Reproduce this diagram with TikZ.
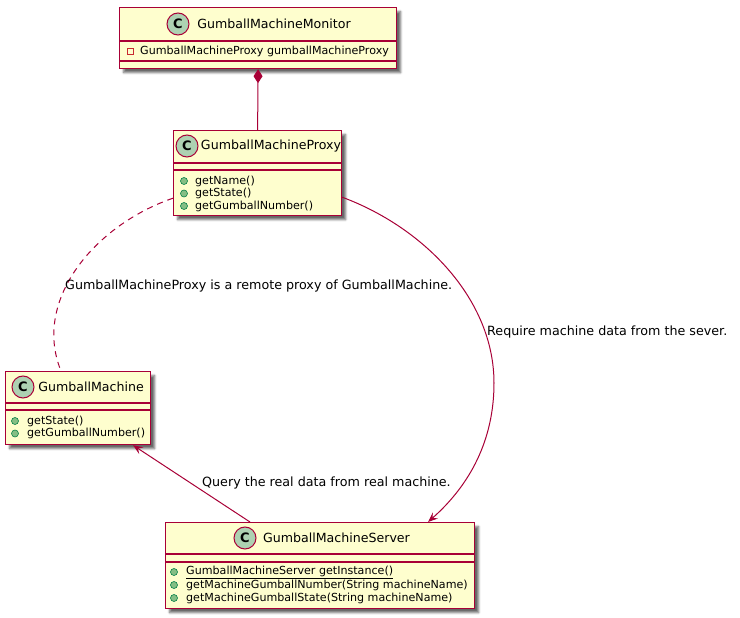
\documentclass[tikz,border=0pt]{standalone}
\usepackage{fontspec}
\setmainfont{DejaVu Sans}
\usetikzlibrary{arrows.meta,calc,shadows.blur}
\definecolor{umlB}{HTML}{A80036}
\definecolor{umlF}{HTML}{FEFECE}
\definecolor{umlC}{HTML}{ADD1B2}
\definecolor{umlG}{HTML}{84BE84}
\definecolor{umlGd}{HTML}{038048}
\definecolor{umlP}{HTML}{C82930}
\begin{document}
\begin{tikzpicture}[x=1pt,y=-1pt,>={Stealth[length=10pt,width=8pt,inset=4pt]},
  cls/.style={draw=umlB,fill=umlF,line width=1.2pt,inner sep=0pt,anchor=north west,
    blur shadow={shadow xshift=4pt,shadow yshift=-4pt,shadow blur steps=6,shadow opacity=60}},
  sep/.style={umlB,line width=1.2pt},
  circ/.style={circle,draw=umlB,fill=umlC,line width=1pt,minimum size=22pt,inner sep=0pt,
    font=\fontsize{13}{13}\selectfont\bfseries},
  cname/.style={font=\fontsize{12.6}{15}\selectfont,inner sep=0pt},
  mem/.style={anchor=west,font=\fontsize{11.1}{13}\selectfont,inner sep=0pt},
  pub/.style={circle,draw=umlGd,fill=umlG,line width=0.6pt,minimum size=7pt,inner sep=0pt},
  priv/.style={rectangle,draw=umlP,line width=0.8pt,minimum size=6pt,inner sep=0pt},
  lbl/.style={anchor=west,font=\fontsize{12.7}{15}\selectfont,inner sep=0pt},
  link/.style={umlB,line width=1pt}]
\useasboundingbox (0,0) rectangle (740,618);
% ---------- classes ----------
\node[cls,minimum width=277pt,minimum height=61pt] (mon) at (119,7) {};
\draw[sep] ($(mon.north west)+(0,34)$)--($(mon.north east)+(0,34)$);
\draw[sep] ($(mon.north west)+(0,54)$)--($(mon.north east)+(0,54)$);
\node[circ] (monC) at (178,24) {C};
\node[cname] (monN) at (274,24) {GumballMachineMonitor};
\node[priv] (monA) at (130,51) {};
\node[mem] (monAt) at (140,51) {GumballMachineProxy gumballMachineProxy};

\node[cls,minimum width=168pt,minimum height=85pt] (proxy) at (173,130) {};
\draw[sep] ($(proxy.north west)+(0,33)$)--($(proxy.north east)+(0,33)$);
\draw[sep] ($(proxy.north west)+(0,40)$)--($(proxy.north east)+(0,40)$);
\node[circ] (proxyC) at (187,146) {C};
\node[cname] (proxyN) at (271,146) {GumballMachineProxy};
\foreach \y/\m [count=\i] in {181/getName(),193.5/getState(),206/getGumballNumber()}{
  \node[pub] (proxyV\i) at (184,\y) {};
  \node[mem] (proxyM\i) at (195,\y) {\m};
}

\node[cls,minimum width=145pt,minimum height=73pt] (gm) at (5,371) {};
\draw[sep] ($(gm.north west)+(0,32)$)--($(gm.north east)+(0,32)$);
\draw[sep] ($(gm.north west)+(0,39)$)--($(gm.north east)+(0,39)$);
\node[circ] (gmC) at (23,387) {C};
\node[cname] (gmN) at (91,387) {GumballMachine};
\foreach \y/\m [count=\i] in {421/getState(),433.5/getGumballNumber()}{
  \node[pub] (gmV\i) at (15,\y) {};
  \node[mem] (gmM\i) at (27,\y) {\m};
}

\node[cls,minimum width=309pt,minimum height=86pt] (srv) at (165,522) {};
\draw[sep] ($(srv.north west)+(0,32)$)--($(srv.north east)+(0,32)$);
\draw[sep] ($(srv.north west)+(0,40)$)--($(srv.north east)+(0,40)$);
\node[circ] (srvC) at (245,538) {C};
\node[cname] (srvN) at (336.5,538) {GumballMachineServer};
\foreach \y/\m [count=\i] in {572/\underline{GumballMachineServer getInstance()},
    585/getMachineGumballNumber(String machineName),
    598/getMachineGumballState(String machineName)}{
  \node[pub] (srvV\i) at (174,\y) {};
  \node[mem] (srvM\i) at (186,\y) {\m};
}

% ---------- links ----------
\draw[link,{Diamond[length=14pt,width=9pt]}-] (mon.south)--(proxy.north);
\coordinate (dashA) at ($(proxy.south west)+(0,-18)$);
\coordinate (dashB) at ($(gm.north west)+(56,0)$);
\draw[link,dash pattern=on 6pt off 5pt] (dashA) .. controls (95,225) and (32,300) .. (dashB);
\node[lbl] (proxyLbl) at (65,286) {GumballMachineProxy is a remote proxy of GumballMachine.};

\coordinate (reqA) at ($(proxy.south east)+(0,-19)$);
\coordinate (reqB) at ($(srv.north west)+(263,0)$);
\draw[link,->] (reqA) .. controls (425,228) and (494,300) .. (494,383)
  .. controls (494,440) and (470,485) .. (reqB);
\node[lbl] (reqLbl) at (487,332) {Require machine data from the sever.};

\coordinate (qryA) at ($(srv.north west)+(85,0)$);
\coordinate (qryB) at ($(gm.south west)+(128,0)$);
\draw[link,->] (qryA)--(qryB);
\node[lbl] (qryLbl) at (202,483) {Query the real data from real machine.};
\end{tikzpicture}
\end{document}
